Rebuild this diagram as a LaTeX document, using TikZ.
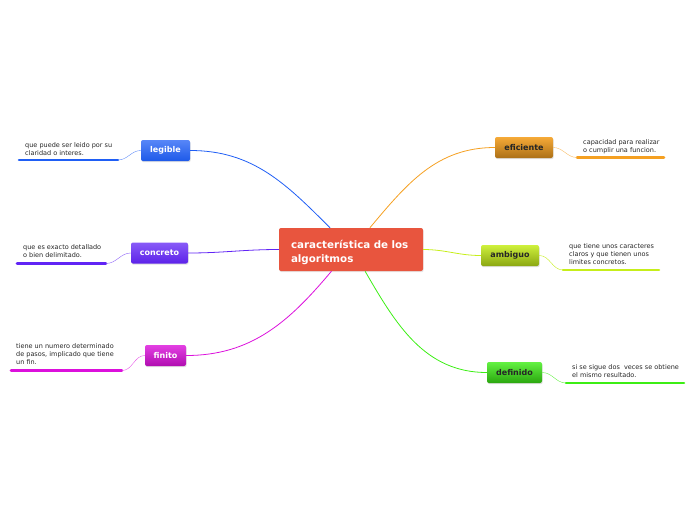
\documentclass[tikz,border=0pt]{standalone}
\usepackage{fontspec}
\setmainfont{DejaVu Sans}
\usetikzlibrary{shadows}
\definecolor{rojo}{HTML}{E8553E}
\definecolor{azul}{HTML}{1F5EF5}
\definecolor{morado}{HTML}{6124F5}
\definecolor{magenta}{HTML}{DC10DC}
\definecolor{naranja}{HTML}{F5A021}
\definecolor{lima}{HTML}{C6EE1A}
\definecolor{verde}{HTML}{3CEE14}
\begin{document}
\begin{tikzpicture}[x=1pt, y=-1pt,
			tema/.style={rounded corners=2pt, minimum height=21pt, inner sep=0pt,
				font=\fontsize{8}{9}\selectfont\bfseries,
				drop shadow={shadow xshift=0.6pt, shadow yshift=-1.2pt, opacity=0.25}},
			nota/.style={anchor=north west, align=left, inner sep=0pt,
				font=\fontsize{6.5}{8.3}\selectfont, text=black!85},
			raya/.style={line width=2.6pt, line cap=round},
			rama/.style={line width=0.8pt},
			enlace/.style={line width=0.4pt}]
			\useasboundingbox (0,0) rectangle (696,520);
			% nodo central
			\node[rounded corners=2pt, fill=rojo, text=white, minimum width=144pt, minimum height=43pt,
				text width=130pt, inner xsep=7pt, align=left, font=\fontsize{10.3}{14}\selectfont\bfseries,
				drop shadow={shadow xshift=0.6pt, shadow yshift=-1.2pt, opacity=0.2}]
				(cen) at (351,249.5) {\rule{0pt}{13.8pt}\hspace*{5pt}característica de los\\\hspace*{5pt}algoritmos};
			% temas
			\node[tema, minimum width=49pt, top color=azul!75!white, bottom color=azul!95!black, text=white] (legible) at (165.5,150.5) {legible};
			\node[tema, minimum width=57pt, top color=morado!75!white, bottom color=morado!95!black, text=white] (concreto) at (159.5,253) {concreto};
			\node[tema, minimum width=41pt, top color=magenta!80!white, bottom color=magenta!80!black, text=white] (finito) at (165.5,355.5) {finito};
			\node[tema, minimum width=58pt, top color=naranja!90!white, bottom color=naranja!70!black, text=black!85] (eficiente) at (524,147.5) {eficiente};
			\node[tema, minimum width=58pt, top color=lima!85!white, bottom color=lima!70!black, text=black!85] (ambiguo) at (510,255.5) {ambiguo};
			\node[tema, minimum width=55pt, top color=verde!80!white, bottom color=verde!70!black, text=black!85] (definido) at (514.5,372.5) {definido};
			% ramas
			\draw[rama, azul] (cen.134) to[out=135, in=0] (legible.east);
			\draw[rama, morado] (cen.west) to[out=180, in=0] (concreto.east);
			\draw[rama, magenta] (cen.228) to[out=-130, in=0] (finito.east);
			\draw[rama, naranja] (cen.49) to[out=50, in=180] (eficiente.west);
			\draw[rama, lima] (cen.east) to[out=0, in=180] (ambiguo.west);
			\draw[rama, verde] (cen.-57) to[out=-60, in=180] (definido.west);
			% notas
			\node[nota] (nLeg) at (25,142) {que puede ser leido por su\\claridad o interes.};
			\node[nota] (nCon) at (23,244) {que es exacto detallado\\o bien delimitado.};
			\node[nota] (nFin) at (16,343) {tiene un numero determinado\\de pasos, implicado que tiene\\un fin.};
			\node[nota] (nEfi) at (583,139) {capacidad para realizar\\o cumplir una funcion.};
			\node[nota] (nAmb) at (569,243) {que tiene unos caracteres\\claros y que tienen unos\\limites concretos.};
			\node[nota] (nDef) at (572,364) {si se sigue dos\ \ veces se obtiene\\el mismo resultado.};
			% subrayados
			\coordinate (uLegA) at (19,160);  \coordinate (uLegB) at (118,160);
			\coordinate (uConA) at (17,263.5);\coordinate (uConB) at (106,263.5);
			\coordinate (uFinA) at (11,370.5);\coordinate (uFinB) at (122,370.5);
			\coordinate (uEfiA) at (577,157.5);\coordinate (uEfiB) at (664,157.5);
			\coordinate (uAmbA) at (563,270);  \coordinate (uAmbB) at (659,270);
			\coordinate (uDefA) at (566,383);  \coordinate (uDefB) at (684,383);
			\draw[raya, azul] (uLegA) -- (uLegB);
			\draw[raya, morado] (uConA) -- (uConB);
			\draw[raya, magenta] (uFinA) -- (uFinB);
			\draw[raya, naranja] (uEfiA) -- (uEfiB);
			\draw[raya, lima] (uAmbA) -- (uAmbB);
			\draw[raya, verde] (uDefA) -- (uDefB);
			% enlaces
			\draw[enlace, azul!70!white] (uLegB) to[out=0, in=180] (legible.west);
			\draw[enlace, morado!70!white] (uConB) to[out=0, in=180] (concreto.west);
			\draw[enlace, magenta!70!white] (uFinB) to[out=0, in=180] (finito.west);
			\draw[enlace, naranja!70!white] (eficiente.east) to[out=0, in=180] (uEfiA);
			\draw[enlace, lima] (ambiguo.east) to[out=0, in=180] (uAmbA);
			\draw[enlace, verde!80!white] (definido.east) to[out=0, in=180] (uDefA);
		\end{tikzpicture}
\end{document}
